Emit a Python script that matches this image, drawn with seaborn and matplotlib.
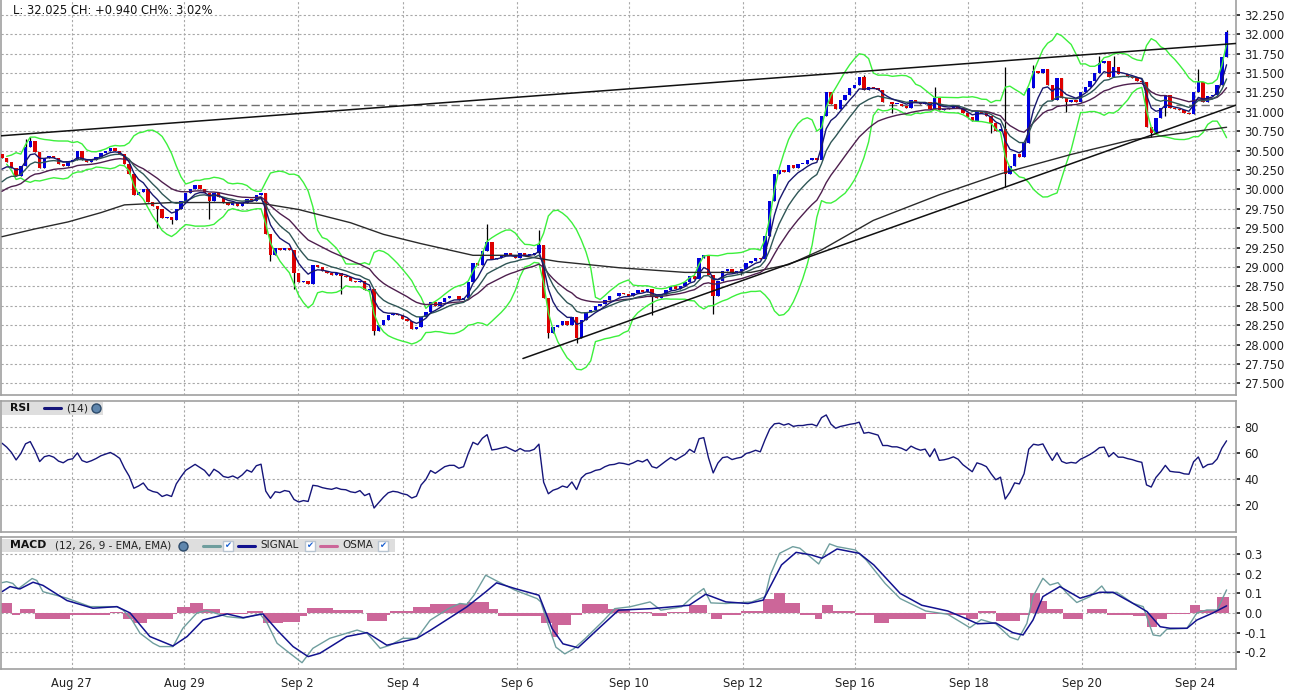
import numpy as np
import pandas as pd
import seaborn as sns
import matplotlib.pyplot as plt
from matplotlib.lines import Line2D
from matplotlib.patches import Rectangle

# 2h closes, left to right
CLOSE = [
    30.40, 30.35, 30.28, 30.17, 30.30, 30.55, 30.62, 30.48, 30.28, 30.40,
    30.43, 30.40, 30.33, 30.30, 30.36, 30.38, 30.50, 30.38, 30.35, 30.38,
    30.42, 30.47, 30.50, 30.53, 30.50, 30.46, 30.33, 30.20, 29.93, 29.96,
    30.00, 29.84, 29.78, 29.75, 29.63, 29.65, 29.60, 29.75, 29.85, 29.95,
    30.00, 30.05, 30.00, 29.95, 29.85, 29.95, 29.90, 29.82, 29.80, 29.82,
    29.78, 29.82, 29.88, 29.85, 29.93, 29.95, 29.42, 29.15, 29.25, 29.22,
    29.25, 29.22, 28.92, 28.80, 28.82, 28.78, 29.02, 29.00, 28.95, 28.92,
    28.90, 28.92, 28.88, 28.87, 28.82, 28.80, 28.82, 28.70, 28.72, 28.18,
    28.25, 28.32, 28.38, 28.40, 28.38, 28.33, 28.30, 28.20, 28.22, 28.35,
    28.42, 28.55, 28.50, 28.55, 28.60, 28.62, 28.62, 28.58, 28.60, 28.80,
    29.05, 29.02, 29.20, 29.32, 29.10, 29.12, 29.15, 29.18, 29.15, 29.12,
    29.18, 29.15, 29.15, 29.18, 29.28, 28.60, 28.15, 28.22, 28.25, 28.30,
    28.25, 28.35, 28.08, 28.32, 28.42, 28.45, 28.50, 28.52, 28.58, 28.62,
    28.63, 28.66, 28.65, 28.63, 28.66, 28.70, 28.68, 28.72, 28.62, 28.60,
    28.65, 28.70, 28.75, 28.72, 28.76, 28.80, 28.88, 28.85, 29.12, 29.15,
    28.90, 28.62, 28.82, 28.95, 28.97, 28.92, 28.95, 28.97, 29.05, 29.08,
    29.12, 29.10, 29.40, 29.85, 30.20, 30.25, 30.22, 30.32, 30.28, 30.33,
    30.33, 30.38, 30.40, 30.38, 30.95, 31.25, 31.10, 31.03, 31.15, 31.22,
    31.30, 31.35, 31.45, 31.28, 31.32, 31.30, 31.28, 31.12, 31.12, 31.10,
    31.10, 31.08, 31.05, 31.15, 31.12, 31.10, 31.12, 31.03, 31.18, 31.02,
    31.03, 31.05, 31.08, 31.05, 30.98, 30.93, 30.88, 31.00, 30.98, 30.95,
    30.85, 30.75, 30.78, 30.20, 30.30, 30.45, 30.42, 30.60, 31.30, 31.52,
    31.50, 31.55, 31.35, 31.15, 31.43, 31.18, 31.12, 31.15, 31.13, 31.25,
    31.32, 31.40, 31.50, 31.63, 31.65, 31.45, 31.58, 31.48, 31.48, 31.45,
    31.43, 31.40, 31.38, 30.80, 30.72, 30.92, 31.05, 31.22, 31.05, 31.03,
    31.02, 30.98, 30.97, 31.25, 31.38, 31.12, 31.20, 31.22, 31.35, 31.70,
    32.025,
]
FIRST_OPEN = 30.45
PREV_CLOSE = 31.085

# visible long wicks (candle index -> price)
HIGH_WICKS = {5: 30.65, 6: 30.68, 103: 29.55, 114: 29.47, 183: 31.47, 198: 31.32,
              213: 31.58, 219: 31.60, 233: 31.72, 236: 31.72, 254: 31.55, 260: 32.05}
LOW_WICKS = {33: 29.50, 36: 29.55, 44: 29.62, 57: 29.08, 62: 28.72, 72: 28.65,
             79: 28.12, 116: 28.08, 122: 28.02, 138: 28.38, 151: 28.40, 157: 28.90,
             189: 30.98, 210: 30.72, 213: 30.03, 226: 31.00, 244: 30.68, 247: 30.95}

# slow moving average
LONG_MA_IDX = [0, 7, 14, 21, 26, 36, 46, 55, 63, 74, 81, 89, 100, 110, 118, 131,
               145, 159, 167, 174, 185, 199, 212, 227, 240, 250, 260]
LONG_MA = [29.39, 29.49, 29.58, 29.70, 29.80, 29.83, 29.83, 29.82, 29.74, 29.57,
           29.42, 29.30, 29.15, 29.15, 29.07, 28.99, 28.93, 28.93, 29.03, 29.22,
           29.60, 29.93, 30.20, 30.45, 30.64, 30.72, 30.80]

# starting values of the indicators at the left edge
MA_SEEDS = [30.19, 30.03, 29.93]
RSI_SEED_GAIN = 0.06
RSI_SEED_LOSS = 0.025

# MACD panel (x in candle units)
MACD_IDX = [0, 1.0, 2.3, 3.4, 6.4, 7.4, 8.7, 13.8, 18.7, 24.4, 25.7, 27.6, 29.3, 32.1,
            33.5, 36.3, 38.4, 41.4, 43.5, 47.8, 51.2, 54.8, 56.3, 58.4, 61.1, 63.7,
            66.0, 69.6, 75.4, 77.5, 80.3, 82.4, 85.1, 88.1, 90.9, 94.8, 97.2, 98.7,
            100.2, 102.7, 105.0, 108.9, 113.6, 114.4, 115.9, 117.6, 119.5, 121.4,
            123.8, 127.8, 130.1, 133.3, 137.6, 139.9, 144.3, 146.6, 149.0, 150.5,
            153.7, 159.2, 162.0, 163.1, 165.1, 167.9, 169.4, 173.4, 175.7, 177.3,
            181.2, 183.5, 187.5, 190.7, 196.1, 200.8, 205.5, 207.9, 211.0, 214.0,
            215.7, 217.6, 218.9, 221.0, 222.5, 224.2, 226.1, 228.2, 231.0, 233.5,
            234.6, 236.7, 240.1, 242.3, 244.4, 245.9, 247.3, 251.6, 253.7, 255.8,
            258.0, 260.0]
MACD = [0.154, 0.159, 0.150, 0.122, 0.175, 0.165, 0.108, 0.075, 0.032, 0.032, 0.015,
        -0.036, -0.103, -0.154, -0.171, -0.171, -0.078, 0.0, 0.012, -0.019, -0.027,
        -0.005, -0.052, -0.154, -0.205, -0.253, -0.180, -0.129, -0.087, -0.103, -0.180,
        -0.164, -0.129, -0.129, -0.037, 0.022, 0.048, 0.044, 0.090, 0.192, 0.163, 0.116,
        0.073, 0.056, -0.055, -0.174, -0.208, -0.182, -0.131, -0.037, 0.022, 0.031,
        0.056, 0.014, 0.031, 0.082, 0.124, 0.051, 0.048, 0.056, 0.082, 0.192, 0.303,
        0.337, 0.329, 0.249, 0.351, 0.337, 0.320, 0.269, 0.150, 0.073, 0.010, -0.007,
        -0.075, -0.034, -0.055, -0.123, -0.137, -0.053, 0.083, 0.176, 0.142, 0.154,
        0.100, 0.053, 0.083, 0.137, 0.100, 0.105, 0.049, 0.032, -0.112, -0.117, -0.083,
        -0.078, 0.0, 0.015, 0.015, 0.117]
SIGNAL_IDX = [0, 1.7, 3.8, 6.6, 8.7, 13.8, 19.3, 24.4, 27.2, 31.4, 36.3, 39.3, 42.7,
              47.8, 51.2, 55.4, 58.4, 61.8, 65.0, 67.5, 73.2, 77.5, 81.7, 85.1, 88.1,
              90.9, 98.7, 102.7, 105.0, 108.9, 114.0, 116.8, 119.1, 122.3, 127.0, 130.9,
              138.0, 145.9, 149.4, 153.7, 158.4, 161.6, 165.5, 168.6, 171.8, 174.1,
              177.3, 182.0, 185.1, 190.7, 195.3, 200.8, 204.7, 207.1, 211.0, 214.6,
              216.8, 218.9, 221.0, 224.6, 228.9, 233.1, 235.9, 240.1, 243.1, 245.9,
              248.0, 251.6, 253.7, 257.1, 260.0]
SIGNAL = [0.108, 0.134, 0.122, 0.156, 0.140, 0.063, 0.024, 0.032, 0.0, -0.120, -0.168,
          -0.120, -0.036, -0.005, -0.024, -0.005, -0.087, -0.171, -0.222, -0.205, -0.120,
          -0.100, -0.164, -0.146, -0.129, -0.089, 0.031, 0.107, 0.153, 0.124, 0.090,
          -0.080, -0.157, -0.177, -0.072, 0.014, 0.022, 0.039, 0.095, 0.056, 0.048,
          0.065, 0.244, 0.308, 0.295, 0.278, 0.325, 0.303, 0.244, 0.099, 0.039, 0.010,
          -0.029, -0.055, -0.051, -0.100, -0.112, -0.036, 0.083, 0.134, 0.075, 0.105,
          0.105, 0.049, 0.007, -0.070, -0.078, -0.078, -0.036, 0.0, 0.036]
OSMA_EDGES = [-0.2, 2.1, 3.8, 7.0, 14.4, 22.9, 25.7, 27.8, 30.8, 36.3, 37.2, 39.9, 42.7,
              46.3, 52.0, 55.4, 59.7, 63.3, 64.8, 70.3, 76.6, 77.5, 81.7, 82.4, 87.3,
              90.9, 98.7, 103.4, 105.3, 114.4, 116.8, 118.1, 120.8, 123.1, 128.7, 133.3,
              138.0, 141.2, 145.9, 149.7, 150.5, 152.9, 156.9, 161.6, 163.9, 166.2,
              169.4, 172.6, 174.1, 176.4, 181.1, 185.1, 188.3, 196.2, 200.8, 204.7,
              207.2, 211.0, 216.1, 218.3, 220.4, 221.9, 225.3, 229.5, 230.4, 234.6,
              240.1, 243.1, 245.2, 247.3, 252.2, 254.3, 257.9, 260.5]
OSMA = [0.05, -0.01, 0.02, -0.03, -0.01, 0.005, -0.03, -0.05, -0.03, -0.005, 0.03,
        0.05, 0.02, -0.005, 0.01, -0.05, -0.045, -0.015, 0.025, 0.015, 0.0, -0.04,
        -0.01, 0.01, 0.03, 0.045, 0.055, 0.02, -0.015, -0.05, -0.12, -0.06, -0.01,
        0.045, 0.02, 0.005, -0.015, 0.005, 0.04, 0.0, -0.03, -0.01, 0.01, 0.07, 0.10,
        0.05, -0.01, -0.03, 0.04, 0.01, -0.01, -0.05, -0.03, -0.005, -0.012, -0.03,
        0.01, -0.04, -0.01, 0.10, 0.06, 0.02, -0.03, 0.0, 0.02, -0.01, -0.015, -0.07,
        -0.03, -0.003, 0.04, 0.015, 0.08]

UPPER_TREND_X = [-0.21, 262.0]
UPPER_TREND_Y = [30.69, 31.88]
LOWER_TREND_X = [110.6, 262.2]
LOWER_TREND_Y = [27.82, 31.09]

DATE_LABELS = ["Aug 27", "Aug 29", "Sep 2", "Sep 4", "Sep 6", "Sep 10",
               "Sep 12", "Sep 16", "Sep 18", "Sep 20", "Sep 24"]
DATE_POS = [14.8, 38.7, 62.8, 85.2, 109.3, 133.2, 157.3, 181.1, 205.2, 229.2, 253.3]


def ema(vals, span, seed):
    a = 2.0 / (span + 1)
    out, prev = [], seed
    for v in vals:
        prev = prev + a * (v - prev)
        out.append(prev)
    return np.array(out)


closes = np.array(CLOSE)
opens = np.r_[FIRST_OPEN, closes[:-1]]
idx = np.arange(len(closes))
highs = np.maximum(opens, closes)
lows = np.minimum(opens, closes)
for i, v in HIGH_WICKS.items():
    highs[i] = max(highs[i], v)
for i, v in LOW_WICKS.items():
    lows[i] = min(lows[i], v)

ma_fast = ema(closes, 5, MA_SEEDS[0])
ma_mid = ema(closes, 10, MA_SEEDS[1])
ma_slow = ema(closes, 20, MA_SEEDS[2])

s = pd.Series(closes)
bb_mid = s.rolling(12, min_periods=2).mean()
bb_sd = s.rolling(12, min_periods=2).std(ddof=0)
bb_up = bb_mid + 2 * bb_sd
bb_lo = bb_mid - 2 * bb_sd

# RSI 14, Wilder smoothing
rsi = []
g, l = RSI_SEED_GAIN, RSI_SEED_LOSS
prev = FIRST_OPEN
for c in closes:
    d = c - prev
    g = g + (max(d, 0) - g) / 14
    l = l + (max(-d, 0) - l) / 14
    rsi.append(100 - 100 / (1 + g / l))
    prev = c
rsi = np.array(rsi)

sns.set_theme(style="white")
plt.rcParams["font.family"] = ["DejaVu Sans"]

W, H = 1289, 694
fig = plt.figure(figsize=(W / 100, H / 100), dpi=100)


def px_axes(x0, y0, x1, y1):
    return fig.add_axes([x0 / W, 1 - y1 / H, (x1 - x0) / W, (y1 - y0) / H])


ax_p = px_axes(1, 0, 1236, 395)
ax_r = px_axes(1, 401, 1236, 532)
ax_m = px_axes(1, 537, 1236, 669)

# price panel
sns.lineplot(x=idx, y=bb_up, ax=ax_p, color="#3cf03c", linewidth=1, legend=False)
sns.lineplot(x=idx, y=bb_lo, ax=ax_p, color="#3cf03c", linewidth=1, legend=False)

up = closes >= opens
body_lo = np.minimum(opens, closes)
body_h = np.maximum(np.abs(closes - opens), 0.012)
ax_p.vlines(idx, lows, highs, color="#000000", linewidth=0.9, zorder=3)
ax_p.bar(idx[up], body_h[up], bottom=body_lo[up], width=0.72, color="#0000dd", linewidth=0, zorder=4)
ax_p.bar(idx[~up], body_h[~up], bottom=body_lo[~up], width=0.72, color="#dd0000", linewidth=0, zorder=4)

sns.lineplot(x=LONG_MA_IDX, y=LONG_MA, ax=ax_p, color="#2a2a2a", linewidth=1, legend=False)
sns.lineplot(x=idx, y=ma_slow, ax=ax_p, color="#4e1f4e", linewidth=1, legend=False)
sns.lineplot(x=idx, y=ma_mid, ax=ax_p, color="#2f5656", linewidth=1, legend=False)
sns.lineplot(x=idx, y=ma_fast, ax=ax_p, color="#18186e", linewidth=1, legend=False)
for ln in ax_p.lines:
    ln.set_zorder(5)

ax_p.axhline(PREV_CLOSE, color="#707070", linestyle=(0, (6, 3)), linewidth=1, zorder=2)
ax_p.plot(UPPER_TREND_X, UPPER_TREND_Y, color="#111111", linewidth=1.1, zorder=6)
ax_p.plot(LOWER_TREND_X, LOWER_TREND_Y, color="#111111", linewidth=1.1, zorder=6)
ax_p.set_ylim(27.35, 32.44)
pticks = np.arange(27.5, 32.26, 0.25)
ax_p.set_yticks(pticks)
ax_p.set_yticklabels([f"{t:.3f}" for t in pticks])

last = closes[-1]
chg = last - PREV_CLOSE
fig.text(13 / W, 1 - 10 / H, f"L: {last:.3f} CH: {chg:+.3f} CH%: {chg / PREV_CLOSE * 100:.2f}%",
         fontsize=8.3, va="center", ha="left", color="#111111")

# RSI panel
sns.lineplot(x=idx, y=rsi, ax=ax_r, color="#15157a", linewidth=1, legend=False)
ax_r.set_ylim(-0.8, 100)
ax_r.set_yticks([20, 40, 60, 80])

# MACD panel
ax_m.bar(OSMA_EDGES[:-1], OSMA, width=np.diff(OSMA_EDGES), align="edge",
         color="#cc6699", linewidth=0, zorder=2)
sns.lineplot(x=MACD_IDX, y=MACD, ax=ax_m, color="#6f9e9e", linewidth=1, legend=False)
sns.lineplot(x=SIGNAL_IDX, y=SIGNAL, ax=ax_m, color="#12128f", linewidth=1.1, legend=False)
ax_m.set_ylim(-0.285, 0.386)
mticks = [-0.2, -0.1, 0.0, 0.1, 0.2, 0.3]
ax_m.set_yticks(mticks)
ax_m.set_yticklabels([f"{t:.1f}" for t in mticks])

for ax in (ax_p, ax_r, ax_m):
    ax.set_xlim(-0.21, 262.0)
    ax.set_xticks(DATE_POS)
    ax.yaxis.tick_right()
    ax.grid(True, color="#a8a8a8", linestyle=(0, (2, 2)), linewidth=0.8)
    ax.set_axisbelow(True)
    ax.tick_params(axis="x", length=0, labelsize=8.3, colors="#222222", pad=6)
    ax.tick_params(axis="y", length=3, labelsize=8.3, colors="#222222", pad=3,
                   right=True, left=False, labelleft=False)
    for sp in ax.spines.values():
        sp.set_color("#a0a0a0")
        sp.set_linewidth(1.2)
    ax.set_xlabel(None)
    ax.set_ylabel(None)
    ax.xaxis.label.set_visible(False)
    ax.yaxis.label.set_visible(False)
ax_p.spines["top"].set_visible(False)
ax_p.set_xticklabels([])
ax_r.set_xticklabels([])
ax_m.set_xticklabels(DATE_LABELS)


# label strips
def fx(x):
    return x / W


def fy(y):
    return 1 - y / H


def strip(x0, y0, x1, y1):
    fig.add_artist(Rectangle((fx(x0), fy(y1)), (x1 - x0) / W, (y1 - y0) / H,
                             transform=fig.transFigure, facecolor="#dedede", edgecolor="none"))


def swatch(x0, x1, y, color):
    fig.add_artist(Line2D([fx(x0), fx(x1)], [fy(y), fy(y)], color=color, linewidth=2.2,
                          transform=fig.transFigure))


def globe(x, y):
    fig.add_artist(Line2D([fx(x)], [fy(y)], marker="o", markersize=6.5, markerfacecolor="#5f86ad",
                          markeredgecolor="#2c4a6a", transform=fig.transFigure))


def checkbox(x, y):
    fig.add_artist(Line2D([fx(x)], [fy(y)], marker="s", markersize=7, markerfacecolor="white",
                          markeredgecolor="#b8c4d0", transform=fig.transFigure))
    fig.text(fx(x), fy(y), "✔", fontsize=6, color="#1a5fd0", ha="center", va="center")


strip(2, 402, 103, 415)
fig.text(fx(10), fy(408.5), "RSI", fontsize=7.8, fontweight="bold", va="center", color="#111111")
swatch(44, 61, 408, "#15157a")
fig.text(fx(66), fy(408.5), "(14)", fontsize=7.8, va="center", color="#222222")
globe(96, 408.5)

strip(2, 539, 395, 552)
fig.text(fx(10), fy(545.5), "MACD", fontsize=7.8, fontweight="bold", va="center", color="#111111")
fig.text(fx(55), fy(545.5), "(12, 26, 9 - EMA, EMA)", fontsize=7.5, va="center", color="#222222")
globe(183, 545.5)
swatch(203, 220, 545.5, "#6f9e9e")
checkbox(228, 545.5)
swatch(238, 255, 545.5, "#12128f")
fig.text(fx(260), fy(545.5), "SIGNAL", fontsize=7.5, va="center", color="#222222")
checkbox(310, 545.5)
swatch(320, 337, 545.5, "#cc6699")
fig.text(fx(342), fy(545.5), "OSMA", fontsize=7.5, va="center", color="#222222")
checkbox(383, 545.5)

fig.savefig("out.png", dpi=100)
